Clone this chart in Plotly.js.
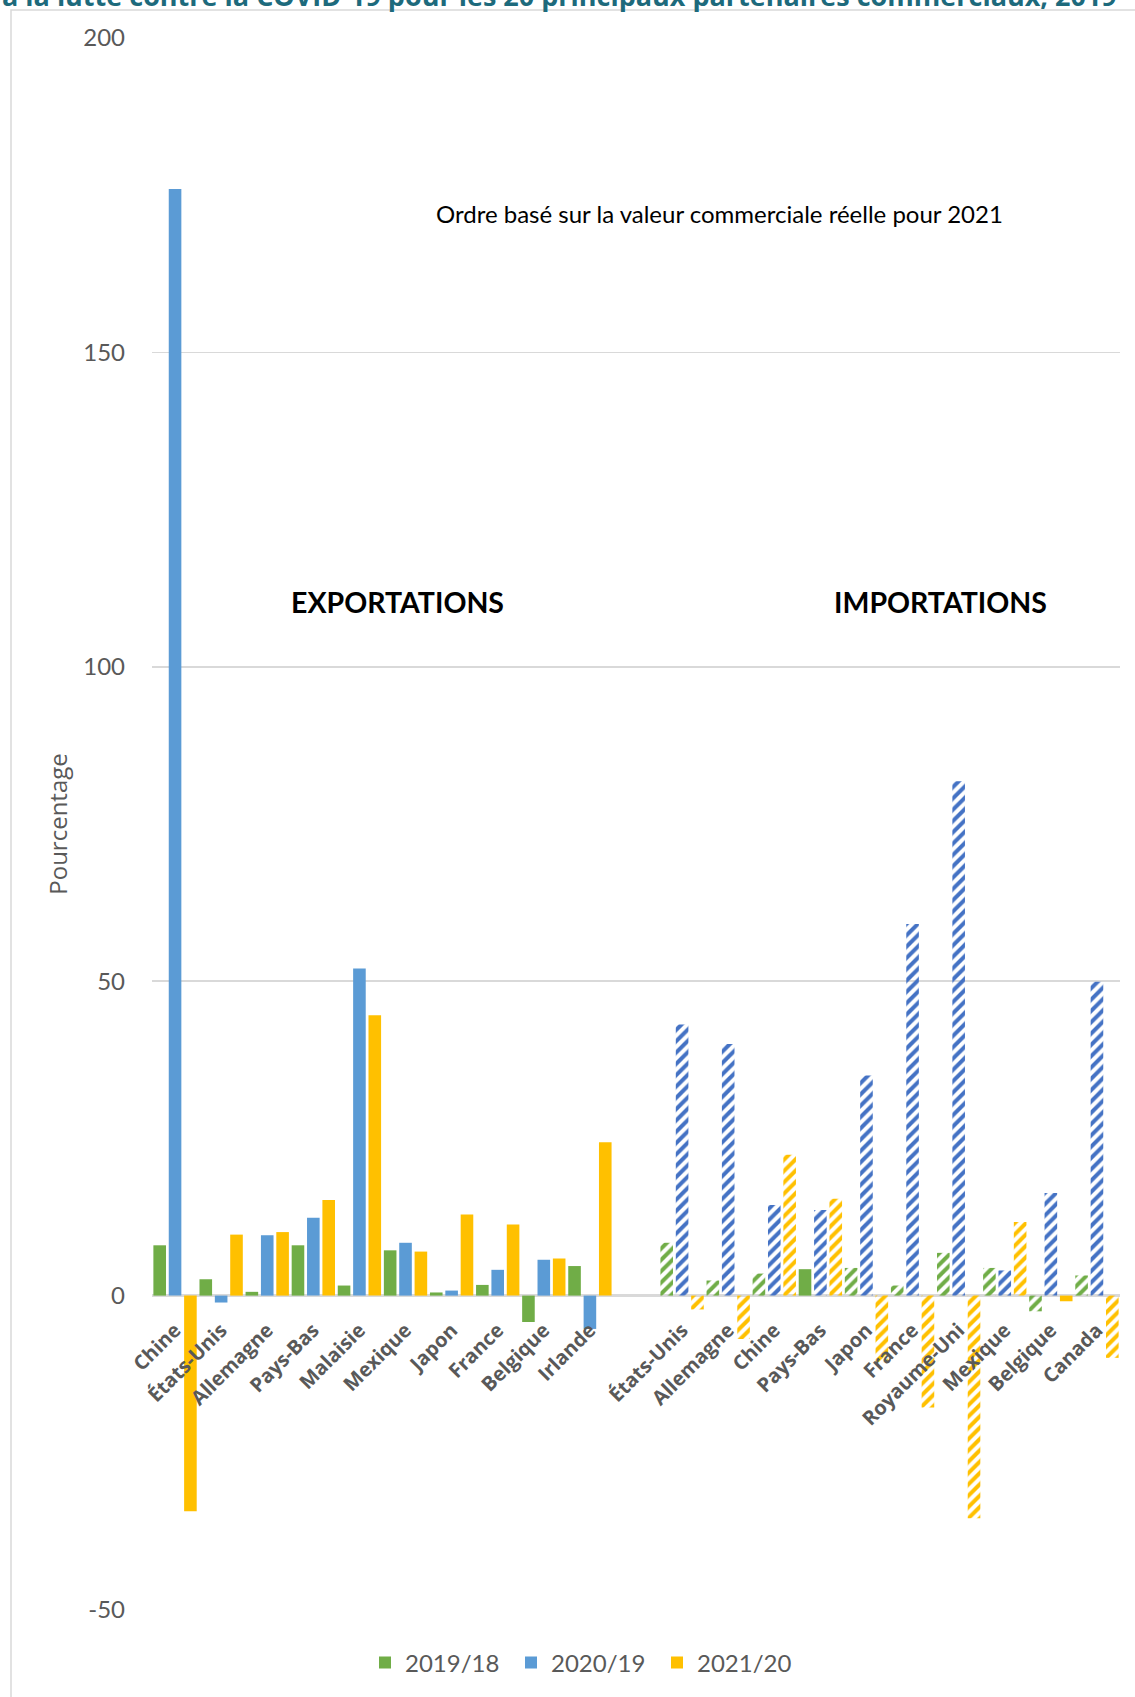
<!DOCTYPE html>
<html>
<head>
<meta charset="utf-8">
<script src="https://cdn.plot.ly/plotly-3.0.1.min.js"></script>
<style>
  html, body { margin: 0; padding: 0; background: #ffffff; }
  #chart { width: 1135px; height: 1697px; }
</style>
</head>
<body>
<div id="chart"></div>
<script>
// ---------- DATA ----------
const exportCountries = ['Chine', 'États-Unis', 'Allemagne', 'Pays-Bas', 'Malaisie', 'Mexique', 'Japon', 'France', 'Belgique', 'Irlande'];
const importCountries = ['États-Unis', 'Allemagne', 'Chine', 'Pays-Bas', 'Japon', 'France', 'Royaume-Uni', 'Mexique', 'Belgique', 'Canada'];

const seriesNames = ['2019/18', '2020/19', '2021/20'];

const exports2019_18 = [8.0, 2.6, 0.6, 8.0, 1.6, 7.2, 0.5, 1.7, -4.2, 4.7];
const exports2020_19 = [176.0, -1.1, 9.6, 12.4, 52.0, 8.4, 0.8, 4.1, 5.7, -5.3];
const exports2021_20 = [-34.3, 9.7, 10.1, 15.2, 44.6, 7.0, 12.9, 11.3, 5.9, 24.4];

const imports2019_18 = [8.4, 2.4, 3.5, 4.2, 4.4, 1.6, 6.8, 4.4, -2.5, 3.2];
const imports2020_19 = [43.1, 40.0, 14.4, 13.6, 35.0, 59.1, 81.8, 4.0, 16.3, 49.9];
const imports2021_20 = [-2.2, -6.9, 22.4, 15.4, -10.6, -17.8, -35.4, 11.7, -0.9, -9.9];

// import bars drawn solid (not hatched) in the original
const importSolid2019_18 = ['Pays-Bas'];
const importSolid2021_20 = ['Belgique'];

const yTicks = [-50, 0, 50, 100, 150, 200];

// ---------- STYLE ----------
const solidColors = ['#70AD47', '#5B9BD5', '#FFC000'];
const hatchColors = ['#70AD47', '#4472C4', '#FFC000'];
const grey = '#595959';

// ---------- BUILD ----------
const gapSlots = 1;
const exportPos = exportCountries.map((_, i) => i);
const importPos = importCountries.map((_, i) => exportCountries.length + gapSlots + i);
const allPos = exportPos.concat(importPos);
const allLabels = exportCountries.concat(importCountries);

const exportSeries = [exports2019_18, exports2020_19, exports2021_20];
const importSeries = [imports2019_18, imports2020_19, imports2021_20];
const importSolid = [importSolid2019_18, [], importSolid2021_20];

const traces = seriesNames.map((name, s) => {
  const shapes = exportCountries.map(() => '').concat(
    importCountries.map(c => importSolid[s].includes(c) ? '' : '/'));
  const fg = exportCountries.map(() => solidColors[s]).concat(
    importCountries.map(c => importSolid[s].includes(c) ? solidColors[s] : hatchColors[s]));
  return {
    type: 'bar',
    name: name,
    x: allPos,
    y: exportSeries[s].concat(importSeries[s]),
    marker: {
      color: fg,
      line: { width: 0 },
      pattern: { shape: shapes, fgcolor: fg, bgcolor: '#ffffff', size: 8, solidity: 0.5, fillmode: 'replace' }
    },
    hoverinfo: 'x+y'
  };
});

// ---------- LAYOUT (pixel geometry) ----------
const W = 1135, H = 1697;
const plotL = 152, plotR = 1120, plotT = 38, plotB = 1614;
const pw = plotR - plotL, ph = plotB - plotT;
const px = x => (x - plotL) / pw;           // page px -> paper x
const py = y => (plotB - y) / ph;           // page px -> paper y
const yRange = [-50, 200];
const nSlots = exportCountries.length + gapSlots + importCountries.length;

const layout = {
  width: W, height: H,
  margin: { l: plotL, r: W - plotR, t: plotT, b: H - plotB, pad: 0 },
  paper_bgcolor: '#ffffff',
  plot_bgcolor: '#ffffff',
  barmode: 'group',
  bargap: 0,
  bargroupgap: 0.18,
  showlegend: true,
  font: { family: 'Lato, sans-serif', color: grey },
  xaxis: {
    type: 'linear',
    range: [-0.5, nSlots - 0.5],
    tickmode: 'array',
    tickvals: allPos,
    ticktext: allLabels,
    tickangle: -45,
    tickfont: { family: 'Open Sans, sans-serif', size: 20, color: grey, weight: 'bold' },
    showgrid: false,
    zeroline: false,
    showline: false,
    ticks: 'outside',
    ticklen: 14,
    tickcolor: 'rgba(0,0,0,0)',
    anchor: 'free',
    position: (0 - yRange[0]) / (yRange[1] - yRange[0]),
    fixedrange: true
  },
  yaxis: {
    range: yRange,
    tickmode: 'array',
    tickvals: yTicks,
    ticktext: yTicks.map(String),
    tickfont: { family: 'Lato, sans-serif', size: 24, color: grey },
    ticklabelstandoff: 26,
    showgrid: true,
    gridcolor: '#d9d9d9',
    gridwidth: 1.5,
    zeroline: true,
    zerolinecolor: '#d9d9d9',
    zerolinewidth: 2.5,
    showline: false,
    ticks: '',
    title: { text: 'Pourcentage', font: { family: 'Open Sans, sans-serif', size: 24, color: grey }, standoff: 8 },
    fixedrange: true
  },
  legend: {
    orientation: 'h',
    x: px(584), xanchor: 'center',
    y: py(1667), yanchor: 'middle',
    font: { family: 'Lato, sans-serif', size: 24, color: grey },
    itemwidth: 30,
    entrywidth: 101,
    entrywidthmode: 'pixels',
    bgcolor: 'rgba(0,0,0,0)'
  },
  shapes: [{
    type: 'rect', xref: 'paper', yref: 'paper', layer: 'below',
    x0: px(11), x1: px(1300), y0: py(1800), y1: py(10),
    line: { color: '#d9d9d9', width: 1.5 }, fillcolor: 'rgba(0,0,0,0)'
  }],
  annotations: [
    {
      text: 'à la lutte contre la COVID-19 pour les 20 principaux partenaires commerciaux, 2019',
      xref: 'paper', yref: 'paper', x: px(0), y: py(16), xanchor: 'left', yanchor: 'bottom',
      showarrow: false, font: { family: 'Open Sans, sans-serif', size: 27, color: '#1D6A7C', weight: 'bold' }
    },
    {
      text: 'Ordre basé sur la valeur commerciale réelle pour 2021',
      xref: 'paper', yref: 'paper', x: px(719), y: py(214), xanchor: 'center', yanchor: 'middle',
      showarrow: false, font: { family: 'Lato, sans-serif', size: 24, color: '#000000' }
    },
    {
      text: 'EXPORTATIONS',
      xref: 'paper', yref: 'paper', x: px(397), y: py(603), xanchor: 'center', yanchor: 'middle',
      showarrow: false, font: { family: 'Lato, sans-serif', size: 28.5, color: '#000000', weight: 'bold' }
    },
    {
      text: 'IMPORTATIONS',
      xref: 'paper', yref: 'paper', x: px(940), y: py(603), xanchor: 'center', yanchor: 'middle',
      showarrow: false, font: { family: 'Lato, sans-serif', size: 28.5, color: '#000000', weight: 'bold' }
    }
  ]
};

Plotly.newPlot('chart', traces, layout, { displayModeBar: false, staticPlot: true });
</script>
</body>
</html>
